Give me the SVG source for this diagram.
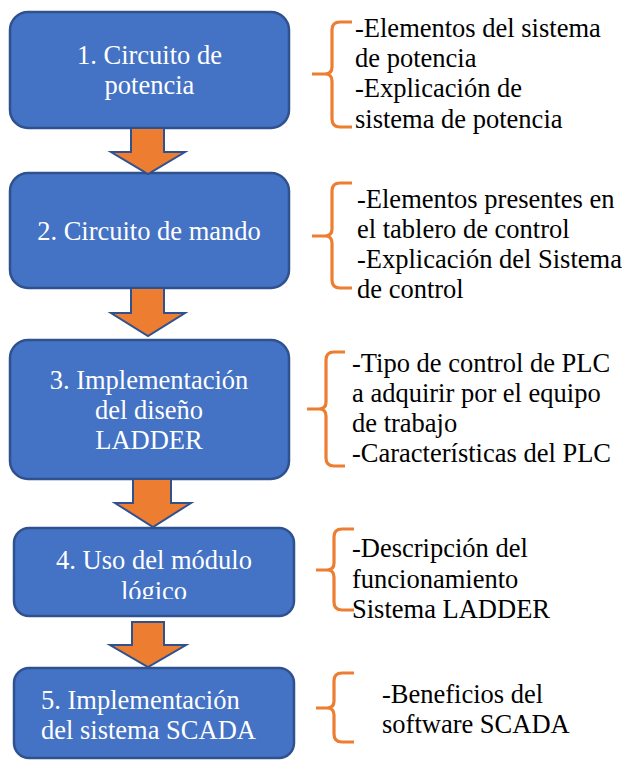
<svg xmlns="http://www.w3.org/2000/svg" width="626" height="761" viewBox="0 0 626 761">
<style>
.box{fill:#4472C4;stroke:#2F528F;stroke-width:2.5}
.arr{fill:#ED7D31;stroke:#2F528F;stroke-width:2;stroke-linejoin:miter}
.brace{fill:none;stroke:#ED7D31;stroke-width:3.2;stroke-linecap:butt}
text{font-family:'Liberation Serif','DejaVu Serif',serif;font-size:26.5px}
.bt{fill:#FFFFFF;text-anchor:middle}
.bl{fill:#FFFFFF}
.rt{fill:#000000}
</style>
<defs>
<clipPath id="clip4"><rect x="14" y="528" width="280" height="71"/></clipPath>
</defs>
<rect width="626" height="761" fill="#FFFFFF"/>

<g id="node1">
<rect class="box" x="10" y="12" width="279" height="116" rx="18"/>
<text class="bt" x="149.5" y="64" font-family="Liberation Serif, DejaVu Serif, serif">1. Circuito de</text>
<text class="bt" x="149.5" y="94" font-family="Liberation Serif, DejaVu Serif, serif">potencia</text>
</g>
<g id="node2">
<rect class="box" x="10" y="173" width="279" height="115" rx="18"/>
<text class="bt" x="149" y="240" font-family="Liberation Serif, DejaVu Serif, serif">2. Circuito de mando</text>
</g>
<g id="node3">
<rect class="box" x="10" y="340" width="279" height="139" rx="18"/>
<text class="bt" x="149" y="389" font-family="Liberation Serif, DejaVu Serif, serif">3. Implementación</text>
<text class="bt" x="149" y="419" font-family="Liberation Serif, DejaVu Serif, serif">del diseño</text>
<text class="bt" x="149" y="449" font-family="Liberation Serif, DejaVu Serif, serif">LADDER</text>
</g>
<g id="node4">
<rect class="box" x="14" y="528" width="280" height="88" rx="15"/>
<g clip-path="url(#clip4)">
<text class="bt" x="154" y="569" font-family="Liberation Serif, DejaVu Serif, serif">4. Uso del módulo</text>
<text class="bt" x="154" y="600" font-family="Liberation Serif, DejaVu Serif, serif">lógico</text>
</g>
</g>
<g id="node5">
<rect class="box" x="14" y="668" width="280" height="90" rx="15"/>
<text class="bl" x="41" y="709" font-family="Liberation Serif, DejaVu Serif, serif">5. Implementación</text>
<text class="bl" x="41" y="739" font-family="Liberation Serif, DejaVu Serif, serif">del sistema SCADA</text>
</g>

<g id="connectors">
<polygon class="arr" points="131,128 164,128 164,152 185,152 148,174 111,152 131,152"/>
<polygon class="arr" points="131,288 164,288 164,313 185,313 148,336 111,313 131,313"/>
<polygon class="arr" points="133,479 171,479 171,503 191,503 153,527 115,503 133,503"/>
<polygon class="arr" points="132,622 164,622 164,645 186,645 148,667 110,645 132,645"/>
</g>

<g id="note1">
<path class="brace" d="M352,22 L340,22 Q332,22 332,30 L332,67 Q332,74 325,74 L312,74 M325,74 Q332,74 332,81 L332,119 Q332,127 340,127 L352,127"/>
<text class="rt" x="355" y="37" font-family="Liberation Serif, DejaVu Serif, serif">-Elementos del sistema</text>
<text class="rt" x="355" y="67" font-family="Liberation Serif, DejaVu Serif, serif">de potencia</text>
<text class="rt" x="355" y="97" font-family="Liberation Serif, DejaVu Serif, serif">-Explicación de</text>
<text class="rt" x="355" y="128" font-family="Liberation Serif, DejaVu Serif, serif">sistema de potencia</text>
</g>
<g id="note2">
<path class="brace" d="M352,183 L340,183 Q332,183 332,191 L332,229 Q332,236 325,236 L312,236 M325,236 Q332,236 332,243 L332,280 Q332,288 340,288 L352,288"/>
<text class="rt" x="357" y="208" font-family="Liberation Serif, DejaVu Serif, serif">-Elementos presentes en</text>
<text class="rt" x="357" y="238" font-family="Liberation Serif, DejaVu Serif, serif">el tablero de control</text>
<text class="rt" x="357" y="268" font-family="Liberation Serif, DejaVu Serif, serif">-Explicación del Sistema</text>
<text class="rt" x="357" y="298" font-family="Liberation Serif, DejaVu Serif, serif">de control</text>
</g>
<g id="note3">
<path class="brace" d="M345,352 L334,352 Q326,352 326,360 L326,402 Q326,409 319,409 L307,409 M319,409 Q326,409 326,416 L326,458 Q326,466 334,466 L345,466"/>
<text class="rt" x="352" y="372" font-family="Liberation Serif, DejaVu Serif, serif">-Tipo de control de PLC</text>
<text class="rt" x="352" y="402" font-family="Liberation Serif, DejaVu Serif, serif">a adquirir por el equipo</text>
<text class="rt" x="352" y="432" font-family="Liberation Serif, DejaVu Serif, serif">de trabajo</text>
<text class="rt" x="352" y="462" font-family="Liberation Serif, DejaVu Serif, serif">-Características del PLC</text>
</g>
<g id="note4">
<path class="brace" d="M354,529 L342,529 Q334,529 334,537 L334,563 Q334,570 327,570 L316,570 M327,570 Q334,570 334,577 L334,602 Q334,610 342,610 L354,610"/>
<text class="rt" x="352" y="557" font-family="Liberation Serif, DejaVu Serif, serif">-Descripción del</text>
<text class="rt" x="352" y="588" font-family="Liberation Serif, DejaVu Serif, serif">funcionamiento</text>
<text class="rt" x="352" y="618" font-family="Liberation Serif, DejaVu Serif, serif">Sistema LADDER</text>
</g>
<g id="note5">
<path class="brace" d="M354,673 L342,673 Q334,673 334,681 L334,701 Q334,708 327,708 L316,708 M327,708 Q334,708 334,715 L334,734 Q334,742 342,742 L354,742"/>
<text class="rt" x="382" y="703" font-family="Liberation Serif, DejaVu Serif, serif">-Beneficios del</text>
<text class="rt" x="382" y="733" font-family="Liberation Serif, DejaVu Serif, serif">software SCADA</text>
</g>
</svg>
